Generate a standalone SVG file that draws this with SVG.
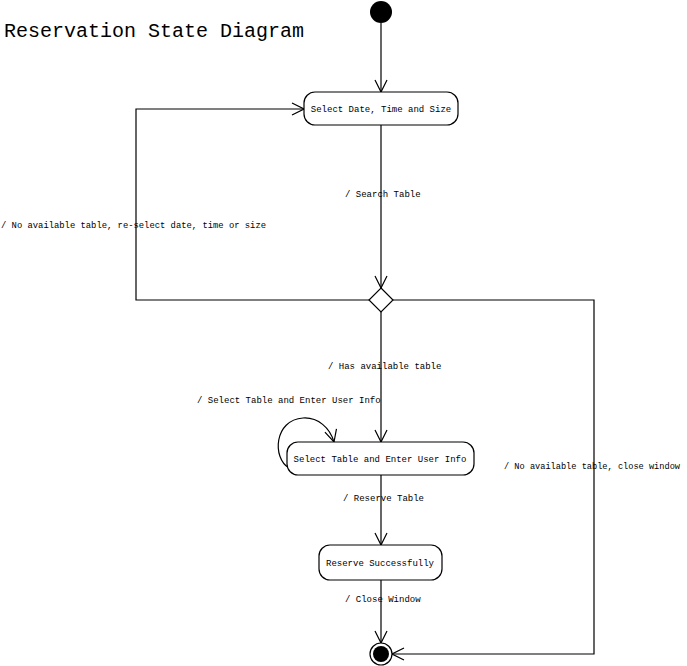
<svg xmlns="http://www.w3.org/2000/svg" width="687" height="666" viewBox="0 0 687 666">
<style>
text{font-family:"Liberation Mono","DejaVu Sans Mono",monospace;fill:#000}
.lbl{font-size:9px}
.st{font-size:9px;text-anchor:middle}
.state{fill:#fff;stroke:#000;stroke-width:1.2}
.c{fill:none;stroke:#000;stroke-width:1.2}
</style>
<defs>
<marker id="arr" viewBox="0 0 14 14" refX="13" refY="7" markerWidth="14" markerHeight="14" markerUnits="userSpaceOnUse" orient="auto">
<path d="M1,1 L13,7 L1,13" fill="none" stroke="#000" stroke-width="1.2"/>
</marker>
</defs>
<rect width="687" height="666" fill="#fff"/>
<text x="4" y="37" font-size="20px">Reservation State Diagram</text>
<g id="connectors">
<path class="c" d="M381,23 L381,92" marker-end="url(#arr)"/>
<path class="c" d="M381,125 L381,288" marker-end="url(#arr)"/>
<path class="c" d="M369,300 L136,300 L136,109 L304,109" marker-end="url(#arr)"/>
<path class="c" d="M393,300 L594,300 L594,654 L392,654" marker-end="url(#arr)"/>
<path class="c" d="M381,312 L381,442" marker-end="url(#arr)"/>
<path class="c" d="M289,468 C272,458 274,420 303,418 C318,417 330,428 334,442" marker-end="url(#arr)"/>
<path class="c" d="M381,475 L381,545" marker-end="url(#arr)"/>
<path class="c" d="M381,580 L381,643" marker-end="url(#arr)"/>
<text class="lbl" x="345" y="197">/ Search Table</text>
<text class="lbl" x="1" y="228" textLength="265" lengthAdjust="spacingAndGlyphs">/ No available table, re-select date, time or size</text>
<text class="lbl" x="328" y="369">/ Has available table</text>
<text class="lbl" x="197" y="403">/ Select Table and Enter User Info</text>
<text class="lbl" x="504" y="469" textLength="176" lengthAdjust="spacingAndGlyphs">/ No available table, close window</text>
<text class="lbl" x="343" y="501">/ Reserve Table</text>
<text class="lbl" x="345" y="602">/ Close Window</text>
</g>
<g id="initial"><circle cx="381" cy="12" r="11" fill="#000"/></g>
<g id="selectDate"><rect class="state" x="304" y="92" width="154" height="33" rx="11"/><text class="st" x="381" y="112">Select Date, Time and Size</text></g>
<g id="decision"><path class="state" d="M381,288 L393,300 L381,312 L369,300 Z"/></g>
<g id="selectTable"><rect class="state" x="287" y="442" width="187" height="33" rx="11"/><text class="st" x="380" y="462">Select Table and Enter User Info</text></g>
<g id="reserveOk"><rect class="state" x="319" y="545" width="123" height="35" rx="11"/><text class="st" x="380" y="566">Reserve Successfully</text></g>
<g id="final"><circle cx="381" cy="654" r="11" fill="#fff" stroke="#000" stroke-width="1.2"/><circle cx="381" cy="654" r="8" fill="#000"/></g>
</svg>
